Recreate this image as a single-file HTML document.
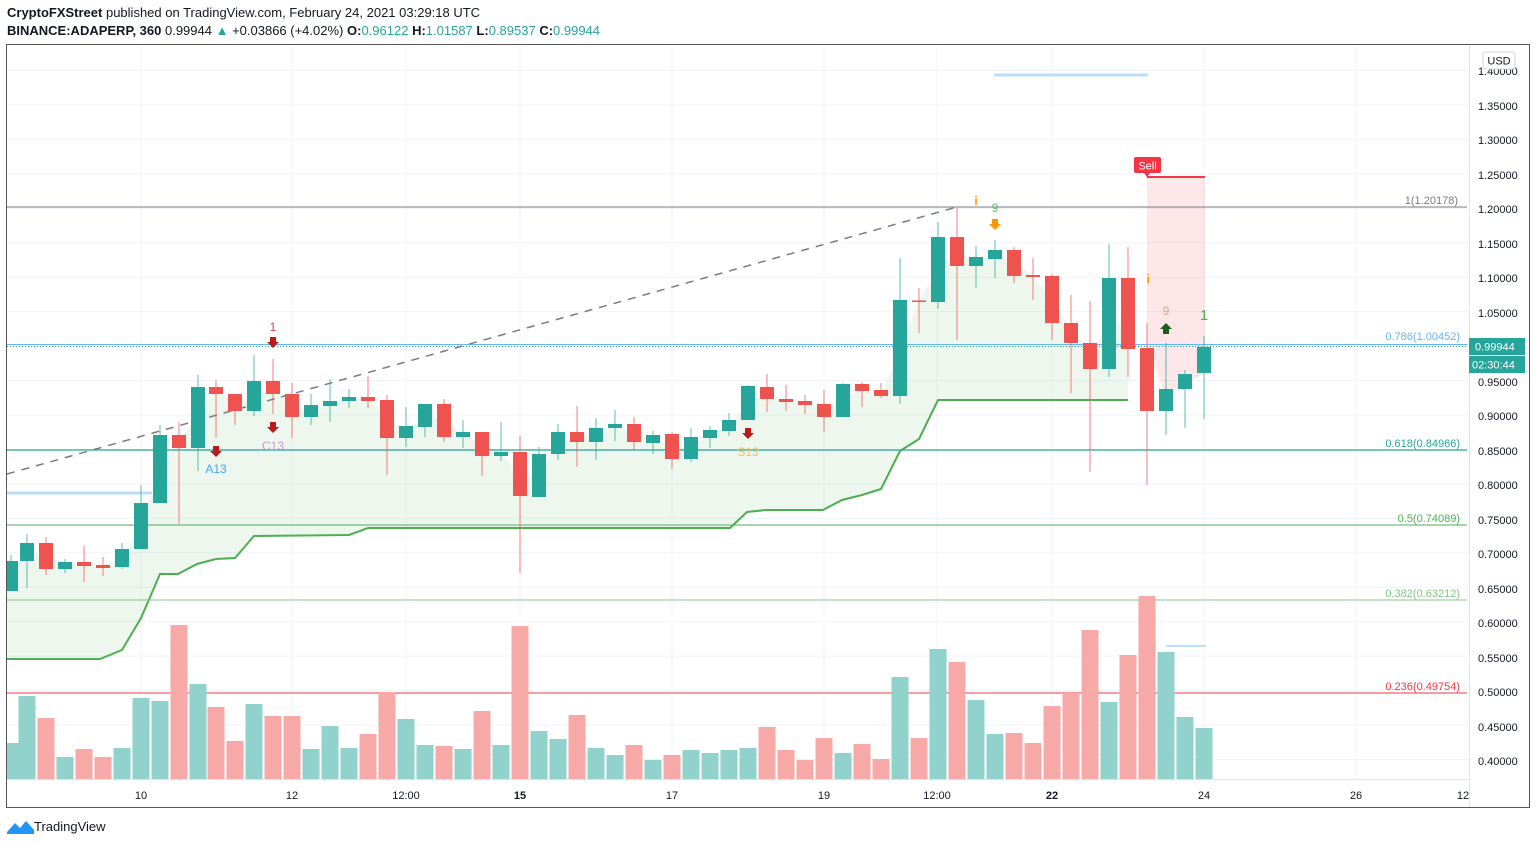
<!DOCTYPE html>
<html><head><meta charset="utf-8"><style>
html,body{margin:0;padding:0;background:#fff;width:1536px;height:845px;overflow:hidden;font-family:"Liberation Sans",sans-serif;}
.h{position:absolute;left:7px;font-size:13px;color:#131722;white-space:nowrap;}
.t{color:#26a69a}
</style></head><body>
<div class="h" style="top:5px"><b>CryptoFXStreet</b> published on TradingView.com, February 24, 2021 03:29:18 UTC</div>
<div class="h" style="top:23px"><b>BINANCE:ADAPERP, 360</b> 0.99944 <span class="t">▲</span> +0.03866 (+4.02%) <b>O:</b><span class="t">0.96122</span> <b>H:</b><span class="t">1.01587</span> <b>L:</b><span class="t">0.89537</span> <b>C:</b><span class="t">0.99944</span></div>
<svg width="1536" height="845" style="position:absolute;left:0;top:0" xmlns="http://www.w3.org/2000/svg" font-family="Liberation Sans, sans-serif">
<g id="grid" stroke="#f0f3fa" stroke-width="1">
<line x1="141" y1="45" x2="141" y2="779"/><line x1="292" y1="45" x2="292" y2="779"/><line x1="406" y1="45" x2="406" y2="779"/><line x1="520" y1="45" x2="520" y2="779"/><line x1="672" y1="45" x2="672" y2="779"/><line x1="824" y1="45" x2="824" y2="779"/><line x1="937" y1="45" x2="937" y2="779"/><line x1="1052" y1="45" x2="1052" y2="779"/><line x1="1204" y1="45" x2="1204" y2="779"/><line x1="1356" y1="45" x2="1356" y2="779"/>
</g>
<g id="hg" stroke="#f0f3fa"></g>
<!-- supertrend fill -->
<polygon fill="rgba(76,175,80,0.1)" points="7,659 100,659 122,650 141,618 160,574 178,574 197,564 216,559 235,558 254,536 349,535 368,528 730,528 747,512 766,510 823,510 842,500 862,495 881,489 900,451 919,439 938,400 1128,400 1128,320 1110,330 1090,350 1071,330 1052,300 1033,276 1014,262 995,255 976,262 957,252 938,270 919,300 900,350 881,395 862,388 843,400 824,410 805,403 786,400 767,393 748,403 729,425 710,434 691,448 672,446 653,439 634,433 615,426 596,435 577,437 558,443 539,475 520,474 501,454 482,444 463,434 444,420 425,415 406,432 387,418 368,399 349,399 330,403 311,411 292,405 273,387 254,396 235,402 216,390 197,417 178,441 160,469 141,526 122,558 103,566 84,564 65,565 46,556 27,552 7,576"/>
<polyline fill="none" stroke="#4caf50" stroke-width="2" points="7,659 100,659 122,650 141,618 160,574 178,574 197,564 216,559 235,558 254,536 349,535 368,528 730,528 747,512 766,510 823,510 842,500 862,495 881,489 900,451 919,439 938,400 1128,400"/>
<!-- pink area -->
<polygon fill="rgba(242,54,69,0.12)" points="1147,177 1205,177 1205,373 1185,385 1166,395 1147,348"/>
<line x1="1147" y1="177" x2="1205" y2="177" stroke="#f23645" stroke-width="2"/>
<rect x="1134" y="157" width="27" height="16" rx="2" fill="#f23645"/>
<polygon points="1144,173 1150,173 1147,177" fill="#f23645"/>
<text x="1147.5" y="169.5" font-size="11" fill="#fff" text-anchor="middle">Sell</text>
<!-- fib lines -->
<line x1="7" y1="207" x2="1467" y2="207" stroke="#787b86" stroke-width="1"/>
<line x1="7" y1="344.5" x2="1467" y2="344.5" stroke="#64b5f6" stroke-width="1"/>
<line x1="7" y1="346.5" x2="1467" y2="346.5" stroke="#26a69a" stroke-width="1" stroke-dasharray="1,2"/>
<line x1="7" y1="450" x2="1467" y2="450" stroke="#26a69a" stroke-width="1.3"/>
<line x1="7" y1="525" x2="1467" y2="525" stroke="#4caf50" stroke-width="1"/>
<line x1="7" y1="600" x2="1467" y2="600" stroke="#81c784" stroke-width="1"/>
<line x1="7" y1="693" x2="1467" y2="693" stroke="#f23645" stroke-width="1"/>
<line x1="7" y1="474" x2="957" y2="207" stroke="#787b86" stroke-width="1.5" stroke-dasharray="8,7"/>
<line x1="994" y1="75" x2="1148" y2="75" stroke="#bbdefb" stroke-width="3"/>
<line x1="7" y1="493" x2="152" y2="493" stroke="#bbdefb" stroke-width="3"/>
<line x1="1166" y1="646" x2="1206" y2="646" stroke="#bbdefb" stroke-width="2"/>
<g font-size="11">
<text x="1458" y="204" fill="#787b86" text-anchor="end">1(1.20178)</text>
<text x="1460" y="340" fill="#64b5f6" text-anchor="end">0.786(1.00452)</text>
<text x="1460" y="447" fill="#26a69a" text-anchor="end">0.618(0.84966)</text>
<text x="1460" y="522" fill="#4caf50" text-anchor="end">0.5(0.74089)</text>
<text x="1460" y="597" fill="#81c784" text-anchor="end">0.382(0.63212)</text>
<text x="1460" y="690" fill="#f23645" text-anchor="end">0.236(0.49754)</text>
</g>
<g id="vol"></g>
<g id="cdl"></g>
<!-- markers -->
<g font-size="12">
<text x="273" y="331" fill="#f23645" text-anchor="middle">1</text>
<text x="216" y="473" fill="#42a5f5" text-anchor="middle">A13</text>
<text x="273" y="450" fill="#ce93d8" text-anchor="middle">C13</text>
<text x="748" y="456" fill="#ffb74d" text-anchor="middle">S13</text>
<text x="976" y="205" fill="#ff9800" text-anchor="middle" font-weight="bold">i</text>
<text x="1148" y="283" fill="#ff9800" text-anchor="middle" font-weight="bold">i</text>
<text x="995" y="212" fill="#66bb6a" text-anchor="middle">9</text>
<text x="1166" y="315" fill="#ef9a9a" text-anchor="middle">9</text>
<text x="1204" y="320" fill="#4caf50" text-anchor="middle" font-size="15">1</text>
</g>
<g id="arr"></g>
<!-- axes -->
<line x1="1469.5" y1="45" x2="1469.5" y2="807" stroke="#e0e3eb"/>
<line x1="7" y1="779.5" x2="1469" y2="779.5" stroke="#e0e3eb"/>
<g font-size="11" fill="#131722">
<text x="1478" y="75">1.40000</text><text x="1478" y="110">1.35000</text><text x="1478" y="144">1.30000</text><text x="1478" y="179">1.25000</text><text x="1478" y="213">1.20000</text><text x="1478" y="248">1.15000</text><text x="1478" y="282">1.10000</text><text x="1478" y="317">1.05000</text><text x="1478" y="386">0.95000</text><text x="1478" y="420">0.90000</text><text x="1478" y="455">0.85000</text><text x="1478" y="489">0.80000</text><text x="1478" y="524">0.75000</text><text x="1478" y="558">0.70000</text><text x="1478" y="593">0.65000</text><text x="1478" y="627">0.60000</text><text x="1478" y="662">0.55000</text><text x="1478" y="696">0.50000</text><text x="1478" y="731">0.45000</text><text x="1478" y="765">0.40000</text>
</g>
<rect x="1483" y="52" width="32" height="17" rx="3" fill="#fff" stroke="#d1d4dc"/>
<text x="1499" y="64.5" font-size="11" fill="#131722" text-anchor="middle">USD</text>
<rect x="1469" y="338" width="56" height="17" fill="#26a69a"/>
<text x="1475" y="350.5" font-size="11" fill="#fff">0.99944</text>
<rect x="1469" y="356" width="56" height="17" fill="#26a69a"/>
<text x="1472" y="368.5" font-size="11" fill="#fff">02:30:44</text>
<g font-size="11" fill="#131722" text-anchor="middle">
<text x="141" y="799">10</text><text x="292" y="799">12</text><text x="406" y="799">12:00</text><text x="520" y="799" font-weight="bold">15</text><text x="672" y="799">17</text><text x="824" y="799">19</text><text x="937" y="799">12:00</text><text x="1052" y="799" font-weight="bold">22</text><text x="1204" y="799">24</text><text x="1356" y="799">26</text><text x="1463" y="799">12</text>
</g>
<rect x="6.5" y="44.5" width="1523" height="763" fill="none" stroke="#555" stroke-width="1"/>
<g transform="translate(7,818)">
<path d="M0,14 L8,5 L13,10 L19,3 L27,12 L27,16 L0,16 Z" fill="#2196f3"/>
</g>
<text x="34" y="831" font-size="13" fill="#131722">TradingView</text>
</svg>
<script>
var G='#26a69a',R='#ef5350';
// [x, open, close, high, low, color]  (y px)
var c=[[11,591,561,555,591,G],[27,561,543,534,588,G],[46,543,569,537,575,R],[65,569,562,559,573,G],[84,562,566,546,582,R],[103,565,568,557,576,R],[122,567,549,543,569,G],[141,549,503,485,549,G],[160,503,435,425,503,G],[179,435,448,422,524,R],[198,448,387,375,471,G],[216,387,394,380,438,R],[235,394,411,394,425,R],[254,411,381,355,416,G],[273,381,394,359,414,R],[292,394,417,383,438,R],[311,417,405,394,425,G],[330,406,401,379,422,G],[349,401,397,389,408,G],[368,397,401,376,408,R],[387,400,438,395,475,R],[406,438,426,407,447,G],[425,427,404,404,437,G],[444,404,437,399,442,R],[463,437,432,420,448,G],[482,432,456,432,476,R],[501,456,452,422,461,G],[520,452,496,436,573,R],[539,497,454,447,497,G],[558,454,432,424,460,G],[577,432,442,406,467,R],[596,442,428,418,460,G],[615,428,424,410,441,G],[634,424,442,417,450,R],[653,443,435,431,454,G],[672,434,459,432,469,R],[691,459,437,428,462,G],[710,438,430,426,448,G],[729,431,420,413,436,G],[748,420,386,385,420,G],[767,387,399,374,412,R],[786,399,402,385,411,R],[805,401,405,395,414,R],[824,404,417,390,432,R],[843,417,384,383,417,G],[862,384,391,382,407,R],[881,390,396,383,398,R],[900,396,300,258,404,G],[919,300.5,302,288,333,R],[938,302,237,222,309,G],[957,237,266,208,340,R],[976,266,257,246,288,G],[995,259,250,240,278,G],[1014,250,276,247,283,R],[1033,275,277,258,300,R],[1052,276,323,274,340,R],[1071,323,343,295,393,R],[1090,343,369,301,472,R],[1109,369,278,244,377,G],[1128,278,349,247,377,R],[1147,348,411,323,485,R],[1166,411,389,343,435,G],[1185,389,374,370,428,G],[1204,373,347,336,419,G]];
var vt=[743,696,718,757,749,757,748,698,701,625,684,707,741,704,716,716,749,726,748,734,692,719,745,746,749,711,745,626,731,739,715,748,755,745,760,755,750,753,750,748,727,750,760,738,753,744,759,677,738,649,662,700,734,733,743,706,693,630,702,655,596,652,717,728];
var NS='http://www.w3.org/2000/svg';
function el(p,t,a){var e=document.createElementNS(NS,t);for(var k in a)e.setAttribute(k,a[k]);p.appendChild(e);return e;}
var cg=document.getElementById('cdl'),vg=document.getElementById('vol');
c.forEach(function(d,i){
 var x=d[0],top=Math.min(d[1],d[2]),h=Math.max(1.5,Math.abs(d[1]-d[2]));
 var vx0=Math.max(7,x-8.5);
 el(vg,'rect',{x:vx0,y:vt[i],width:x+8.5-vx0,height:779-vt[i],fill:d[5]==G?'#92d2cc':'#f7a9a7'});
 el(cg,'line',{x1:x,y1:d[3],x2:x,y2:d[4],stroke:d[5],'stroke-width':1,opacity:0.75});
 var bx=Math.max(7,x-7);
 el(cg,'rect',{x:bx,y:top,width:x+7-bx,height:h,fill:d[5]});
});
var hg=document.getElementById('hg');
for(var p=0;p<=20;p++){var y=70.5+p*34.45;el(hg,'line',{x1:7,y1:y,x2:1469,y2:y});}
var ag=document.getElementById('arr');
function dn(x,y,col){el(ag,'path',{d:'M'+(x-3)+','+(y-6)+' h6 v5 h3 l-6,6 l-6,-6 h3 z',fill:col});}
function up(x,y,col){el(ag,'path',{d:'M'+(x-3)+','+(y+6)+' h6 v-5 h3 l-6,-6 l-6,6 h3 z',fill:col});}
dn(273,343,'#b71c1c');dn(273,428,'#b71c1c');dn(216,452,'#b71c1c');dn(748,434,'#b71c1c');dn(995,225,'#ff9800');up(1166,328,'#1b5e20');
</script>
</body></html>
